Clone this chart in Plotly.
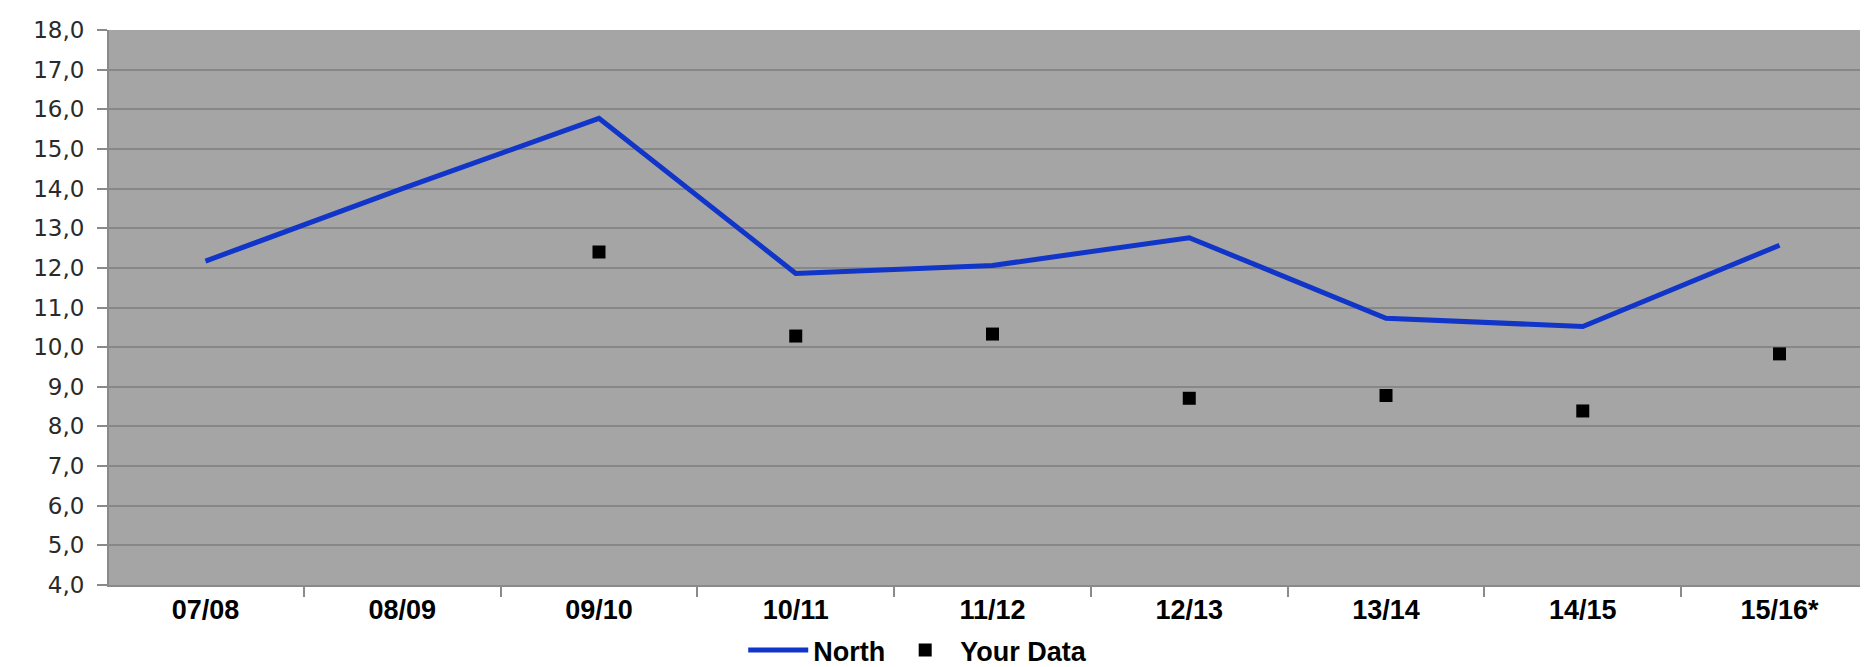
import plotly.graph_objects as go

categories = ["07/08", "08/09", "09/10", "10/11", "11/12", "12/13", "13/14", "14/15", "15/16*"]
north = [12.17, 14.0, 15.77, 11.86, 12.06, 12.76, 10.73, 10.52, 12.57]
your_data = [None, None, 12.40, 10.28, 10.33, 8.71, 8.78, 8.39, 9.83]
y_ticks = [4, 5, 6, 7, 8, 9, 10, 11, 12, 13, 14, 15, 16, 17, 18]

fig = go.Figure()
fig.add_trace(go.Scatter(
    x=categories, y=north, mode="lines", name="North",
    line=dict(color="#1035C8", width=5),
))
fig.add_trace(go.Scatter(
    x=categories, y=your_data, mode="markers", name="Your Data",
    marker=dict(symbol="square", color="black", size=13),
))

fig.update_layout(
    width=1868, height=667,
    margin=dict(l=101, r=0, t=22, b=90),
    paper_bgcolor="white",
    plot_bgcolor="#A5A5A5",
    separators=", ",
    showlegend=True,
    legend=dict(
        orientation="h", x=0.487, xref="container", xanchor="center",
        y=0.0, yref="container", yanchor="bottom",
        font=dict(family="Liberation Sans", size=27, color="black", weight="bold"),
        traceorder="normal", itemwidth=60,
    ),
)
fig.update_xaxes(
    type="category", tickson="boundaries", ticks="outside", ticklen=10,
    tickcolor="#8A8A8A", tickwidth=2,
    showline=True, linecolor="#8A8A8A", linewidth=2,
    showgrid=False,
    tickfont=dict(family="Liberation Sans", size=27, color="black", weight="bold"),
)
fig.update_yaxes(
    range=[4, 18], tickvals=y_ticks, tickformat=".1f",
    ticks="outside", ticklen=10, tickcolor="#8A8A8A", tickwidth=2,
    showline=True, linecolor="#8A8A8A", linewidth=2,
    showgrid=True, gridcolor="#878787", gridwidth=2,
    zeroline=False, ticklabelstandoff=8,
    tickfont=dict(family="DejaVu Sans", size=23, color="#2A2A2A"),
)

fig.write_html("out.html")
